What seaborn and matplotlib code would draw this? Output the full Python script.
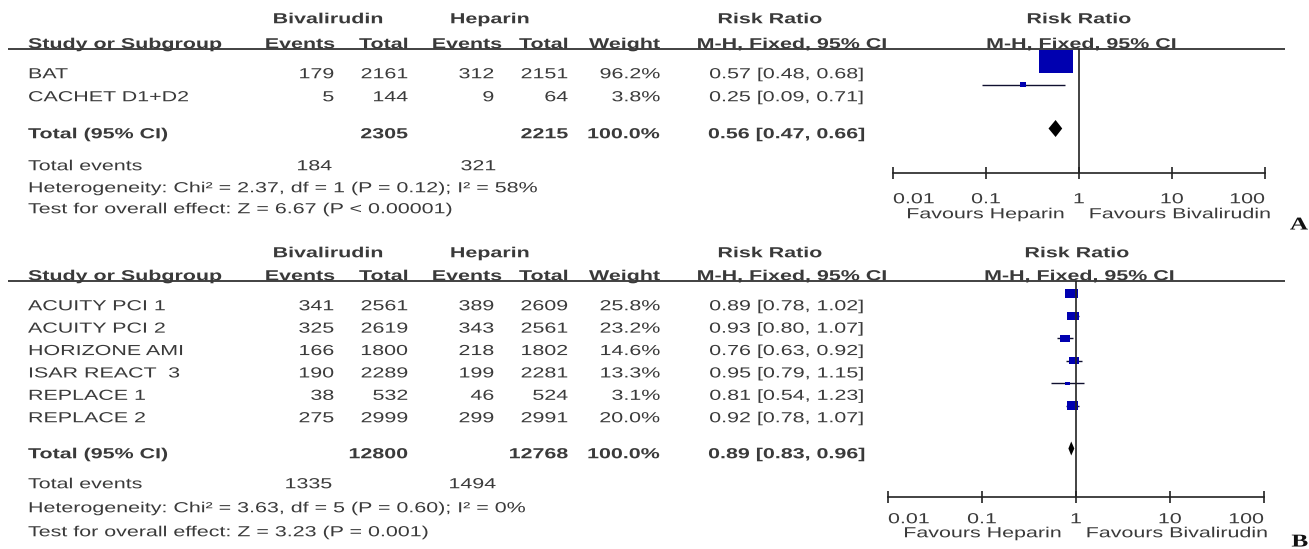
import matplotlib
matplotlib.use("Agg")
import matplotlib.pyplot as plt
import numpy as np
import pandas as pd
import seaborn as sns
from matplotlib.path import Path
from matplotlib.markers import MarkerStyle
from matplotlib.patheffects import AbstractPathEffect
from matplotlib.transforms import Affine2D
from matplotlib.ticker import NullLocator

# ---------------- data ----------------
group_headers = ["Bivalirudin", "Heparin", "Risk Ratio", "Risk Ratio"]
col_headers = ["Study or Subgroup", "Events", "Total", "Events", "Total",
               "Weight", "M-H, Fixed, 95% CI", "M-H, Fixed, 95% CI"]

a_studies = ["BAT", "CACHET D1+D2"]
a_biv_events = [179, 5]
a_biv_total = [2161, 144]
a_hep_events = [312, 9]
a_hep_total = [2151, 64]
a_weight = [96.2, 3.8]
a_rr = [0.57, 0.25]
a_lo = [0.48, 0.09]
a_hi = [0.68, 0.71]
a_totals = [2305, 2215]
a_pooled = [0.56, 0.47, 0.66]
a_events = [184, 321]
a_het = "Heterogeneity: Chi\u00b2 = 2.37, df = 1 (P = 0.12); I\u00b2 = 58%"
a_test = "Test for overall effect: Z = 6.67 (P < 0.00001)"

b_studies = ["ACUITY PCI 1", "ACUITY PCI 2", "HORIZONE AMI", "ISAR REACT  3",
             "REPLACE 1", "REPLACE 2"]
b_biv_events = [341, 325, 166, 190, 38, 275]
b_biv_total = [2561, 2619, 1800, 2289, 532, 2999]
b_hep_events = [389, 343, 218, 199, 46, 299]
b_hep_total = [2609, 2561, 1802, 2281, 524, 2991]
b_weight = [25.8, 23.2, 14.6, 13.3, 3.1, 20.0]
b_rr = [0.89, 0.93, 0.76, 0.95, 0.81, 0.92]
b_lo = [0.78, 0.80, 0.63, 0.79, 0.54, 0.78]
b_hi = [1.02, 1.07, 0.92, 1.15, 1.23, 1.07]
b_totals = [12800, 12768]
b_pooled = [0.89, 0.83, 0.96]
b_events = [1335, 1494]
b_het = "Heterogeneity: Chi\u00b2 = 3.63, df = 5 (P = 0.60); I\u00b2 = 0%"
b_test = "Test for overall effect: Z = 3.23 (P = 0.001)"

tick_values = [0.01, 0.1, 1, 10, 100]
tick_labels = ["0.01", "0.1", "1", "10", "100"]
favours = ["Favours Heparin", "Favours Bivalirudin"]

# ---------------- style ----------------
sns.set_theme(style="white")
plt.rcParams["font.family"] = ["Liberation Sans", "DejaVu Sans"]

W, H, DPI = 1309, 549, 100
FS = 10.5
SX = 1.47
EM = FS * DPI / 72
TXT = "#3a3a3a"
BLUE = "#0000b0"


class HStretch(AbstractPathEffect):
    """Widen glyphs horizontally around the alignment anchor."""
    def __init__(self, sx, ha):
        super().__init__()
        self.sx = sx
        self.ha = ha

    def draw_path(self, renderer, gc, tpath, affine, rgbFace=None):
        bb = tpath.get_extents(affine)
        if self.ha == "left":
            a = affine.transform((0, 0))[0]
        elif self.ha == "right":
            a = bb.x1
        else:
            a = 0.5 * (bb.x0 + bb.x1)
        st = affine + Affine2D().translate(-a, 0).scale(self.sx, 1).translate(a, 0)
        renderer.draw_path(gc, tpath, st, rgbFace)


RECT = MarkerStyle(Path([(-1, -0.7), (1, -0.7), (1, 0.7), (-1, 0.7), (-1, -0.7)],
                        [Path.MOVETO, Path.LINETO, Path.LINETO, Path.LINETO, Path.CLOSEPOLY]))

fig = plt.figure(figsize=(W / DPI, H / DPI), dpi=DPI)
fig.patch.set_facecolor("white")
axT = fig.add_axes([0, 0, 1, 1])
axT.set_xlim(0, W)
axT.set_ylim(H, 0)
axT.axis("off")


def put(ax, x, y, s, ha="left", bold=False, size=FS, sx=SX, family=None, color=TXT, **kw):
    em = size * DPI / 72
    t = ax.text(x, y + 0.36 * em, s, ha=ha, va="baseline", fontsize=size,
                fontweight="bold" if bold else "normal", color=color,
                family=family if family else plt.rcParams["font.family"], **kw)
    t.set_path_effects([HStretch(sx, ha)])
    return t


def panel(L, studies, be, bt, he, ht, wt, rr, lo, hi, totals, pooled, events, het, test, letter):
    # headers
    for x, s in zip([328, 490, 770, L["one"]], group_headers):
        put(axT, x, L["h1"], s, "center", True)
    put(axT, 28, L["h2"], col_headers[0], "left", True)
    for x, s in zip([335, 408, 502, 568, 660, 888], col_headers[1:7]):
        put(axT, x, L["h2"], s, "right", True)
    put(axT, L["one"] + 3, L["h2"], col_headers[7], "center", True)
    axT.hlines(L["line"], 8, 1285, color="#333333", lw=1.3)

    ys = [L["r0"] + i * L["dr"] for i in range(len(studies))]
    for i, y in enumerate(ys):
        put(axT, 28, y, studies[i])
        put(axT, 334, y, str(be[i]), "right")
        put(axT, 408, y, str(bt[i]), "right")
        put(axT, 494, y, str(he[i]), "right")
        put(axT, 568, y, str(ht[i]), "right")
        put(axT, 660, y, f"{wt[i]:.1f}%", "right")
        put(axT, 864, y, f"{rr[i]:.2f} [{lo[i]:.2f}, {hi[i]:.2f}]", "right")
    yt = ys[-1] + L["gt"]
    put(axT, 28, yt, "Total (95% CI)", bold=True)
    put(axT, 408, yt, str(totals[0]), "right", True)
    put(axT, 568, yt, str(totals[1]), "right", True)
    put(axT, 660, yt, f"{sum(wt):.1f}%", "right", True)
    put(axT, 866, yt, f"{pooled[0]:.2f} [{pooled[1]:.2f}, {pooled[2]:.2f}]", "right", True)
    ye = yt + L["ge"]
    put(axT, 28, ye, "Total events")
    put(axT, 332, ye, str(events[0]), "right")
    put(axT, 496, ye, str(events[1]), "right")
    put(axT, 28, ye + L["gh"], het)
    put(axT, 28, ye + L["gh"] + L["gz"], test)

    # forest plot axes
    top, bot = L["line"] - 2, L["axy"] + 60
    axF = fig.add_axes([L["fl"] / W, 1 - bot / H, (L["fr"] - L["fl"]) / W, (bot - top) / H])
    axF.patch.set_alpha(0)
    fy = [y - 11.5 for y in ys]
    df = pd.DataFrame({"rr": rr, "y": fy, "w": wt})
    axF.hlines(fy, lo, hi, color="#101030", lw=1.0, zorder=2)
    sns.scatterplot(data=df, x="rr", y="y", size="w", sizes=(0, L["smax"]),
                    size_norm=(0, max(wt)), marker=RECT, color=BLUE, edgecolor=BLUE,
                    linewidth=0, legend=False, ax=axF, zorder=3)
    yd = yt - 4.5
    hd = L["dh"]
    axF.fill([pooled[1], pooled[0], pooled[2], pooled[0]],
             [yd, yd - hd / 2, yd, yd + hd / 2], color="black", lw=0, zorder=3)
    axF.vlines(1, L["line"], L["axy"], color="#222222", lw=1.2, zorder=4)
    axF.set_xscale("log")
    axF.set_xlim(tick_values[0], tick_values[-1])
    axF.set_ylim(bot, top)
    axF.set_xlabel("")
    axF.set_ylabel("")
    for sp in ["top", "left", "right"]:
        axF.spines[sp].set_visible(False)
    axF.spines["bottom"].set_position(("data", L["axy"]))
    axF.spines["bottom"].set_color("#222222")
    axF.spines["bottom"].set_linewidth(1.2)
    axF.set_xticks(tick_values)
    axF.xaxis.set_minor_locator(NullLocator())
    axF.tick_params(axis="x", direction="inout", length=9, width=1.2, color="#222222",
                    labelbottom=False, bottom=True)
    axF.set_yticks([])
    for i, (v, s) in enumerate(zip(tick_values, tick_labels)):
        ha = "left" if i == 0 else ("right" if i == len(tick_values) - 1 else "center")
        put(axF, v, L["axy"] + L["dtl"], s, ha)
    for s, dx, ha in [(favours[0], -10, "right"), (favours[1], 7, "left")]:
        t = axF.annotate(s, xy=(1, L["axy"] + L["dfv"] + 0.36 * EM), xytext=(dx, 0),
                         textcoords="offset points", ha=ha, va="baseline",
                         fontsize=FS, color=TXT)
        t.set_path_effects([HStretch(SX, ha)])
    put(axT, 1308, L["let"], letter, "right", True, size=13, sx=1.4,
        family=["Liberation Serif", "DejaVu Serif"], color="#111111")


LA = dict(h1=18, h2=43, line=49, r0=73, dr=23, gt=37, ge=32, gh=22, gz=21,
          fl=893, fr=1265, one=1079, axy=173, dtl=25, dfv=40, smax=600, dh=17, let=223)
LB = dict(h1=252, h2=275, line=281, r0=305, dr=22.4, gt=36, ge=30, gh=24, gz=24,
          fl=888, fr=1264, one=1077, axy=497, dtl=21, dfv=35, smax=88, dh=14, let=540)

panel(LA, a_studies, a_biv_events, a_biv_total, a_hep_events, a_hep_total, a_weight,
      a_rr, a_lo, a_hi, a_totals, a_pooled, a_events, a_het, a_test, "A")
panel(LB, b_studies, b_biv_events, b_biv_total, b_hep_events, b_hep_total, b_weight,
      b_rr, b_lo, b_hi, b_totals, b_pooled, b_events, b_het, b_test, "B")

fig.savefig("out.png", dpi=DPI, facecolor="white")
